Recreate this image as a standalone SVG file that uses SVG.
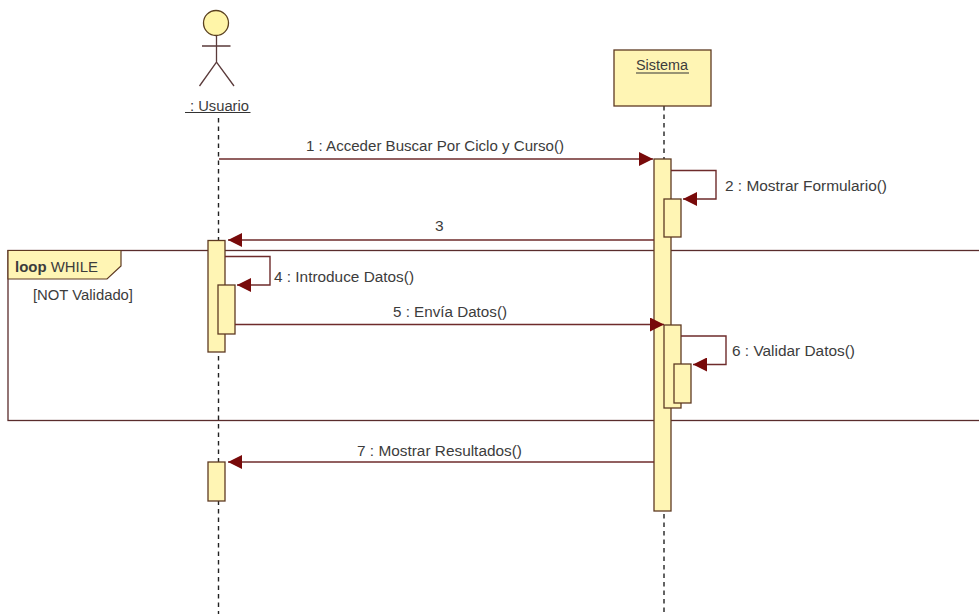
<svg xmlns="http://www.w3.org/2000/svg" width="979" height="614" viewBox="0 0 979 614">
<style>
text{font-family:"Liberation Sans",Arial,sans-serif;font-size:15.500px;fill:#3c3c3c}
.ll{stroke:#222;stroke-width:1.4;stroke-dasharray:4.5 4;fill:none}
.box{fill:#fff5b4;stroke:#5e3a22;stroke-width:1.3}
.msg{stroke:#6e2b2b;stroke-width:1.4;fill:none}
.ul{stroke:#333;stroke-width:1.2}
</style>
<defs>
<marker id="arrow" markerUnits="userSpaceOnUse" markerWidth="14" markerHeight="14" refX="14" refY="7" orient="auto">
<path d="M0 0L14 7L0 14Z" fill="#780a0a"/>
</marker>
</defs>
<rect width="979" height="614" fill="#fff"/>
<g id="lifelines">
<path class="ll" d="M218.500 118V614"/>
<path class="ll" d="M664 106V614"/>
</g>
<g id="loop-frame">
<rect x="8" y="250.500" width="980" height="170" fill="none" stroke="#5a2c2c" stroke-width="1.3"/>
<path d="M8 250.500H121V266L107 279H8Z" fill="#fff5b4" stroke="#5e3a22" stroke-width="1.2"/>
<text x="15" y="272" textLength="83" lengthAdjust="spacingAndGlyphs"><tspan font-weight="700">loop</tspan> WHILE</text>
<text x="33" y="300" textLength="100" lengthAdjust="spacingAndGlyphs">[NOT Validado]</text>
</g>
<g id="actor-usuario">
<circle cx="216" cy="23" r="12.500" fill="#fff5a8" stroke="#5a4020" stroke-width="1.3"/>
<path d="M216.500 35.500V62M202 46H230.500M199.500 86L216.500 62L234 86" fill="none" stroke="#5a3a3a" stroke-width="1.3"/>
<text x="190" y="110.500" textLength="59" lengthAdjust="spacingAndGlyphs">: Usuario</text>
<path class="ul" d="M185 112.500H250.500"/>
</g>
<g id="sistema">
<rect class="box" x="614" y="50" width="97" height="56"/>
<text x="636" y="70" textLength="52" lengthAdjust="spacingAndGlyphs">Sistema</text>
<path class="ul" d="M636 73H689"/>
</g>
<g id="activations">
<rect class="box" x="654" y="159" width="17" height="352"/>
<rect class="box" x="664" y="199" width="17" height="38"/>
<rect class="box" x="664" y="325" width="17" height="83"/>
<rect class="box" x="674" y="364" width="17" height="39"/>
<rect class="box" x="208" y="240.500" width="17" height="111.500"/>
<rect class="box" x="218" y="285" width="17" height="49"/>
<rect class="box" x="208" y="462" width="17" height="39"/>
</g>
<g id="connectors">
<path class="msg" d="M219 159H653" marker-end="url(#arrow)"/>
<path class="msg" d="M671 170.500H716V199H683" marker-end="url(#arrow)"/>
<path class="msg" d="M654 240H228" marker-end="url(#arrow)"/>
<path class="msg" d="M225 256.500H270V285H237" marker-end="url(#arrow)"/>
<path class="msg" d="M235 324.500H664" marker-end="url(#arrow)"/>
<path class="msg" d="M681 336H726V364.500H693" marker-end="url(#arrow)"/>
<path class="msg" d="M654 462H228" marker-end="url(#arrow)"/>
</g>
<g id="labels">
<text x="306" y="151" textLength="258" lengthAdjust="spacingAndGlyphs">1 : Acceder Buscar Por Ciclo y Curso()</text>
<text x="725" y="191" textLength="162" lengthAdjust="spacingAndGlyphs">2 : Mostrar Formulario()</text>
<text x="435" y="231">3</text>
<text x="274" y="281.500" textLength="140" lengthAdjust="spacingAndGlyphs">4 : Introduce Datos()</text>
<text x="393" y="317" textLength="114" lengthAdjust="spacingAndGlyphs">5 : Envía Datos()</text>
<text x="732" y="356" textLength="123" lengthAdjust="spacingAndGlyphs">6 : Validar Datos()</text>
<text x="357" y="456" textLength="165" lengthAdjust="spacingAndGlyphs">7 : Mostrar Resultados()</text>
</g>
</svg>
